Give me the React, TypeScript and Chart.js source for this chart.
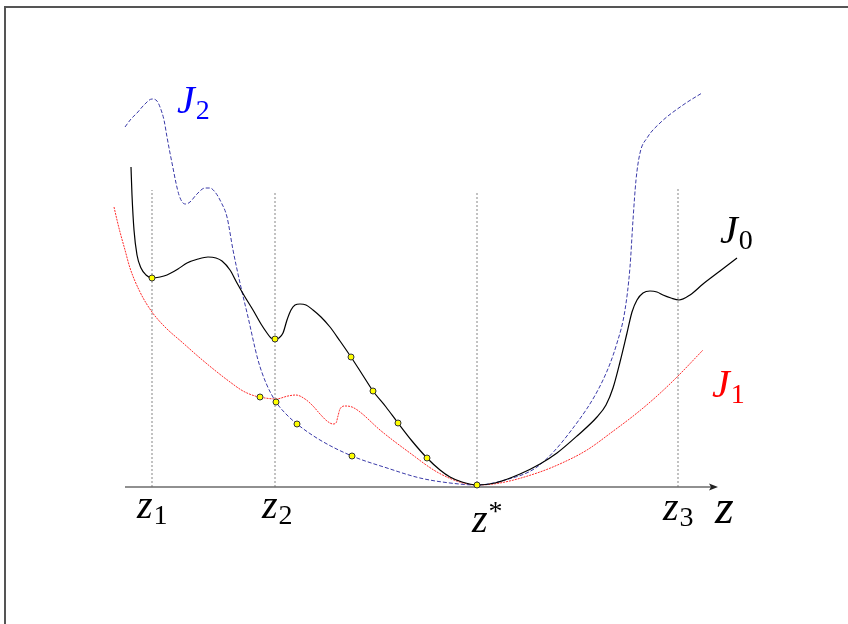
import React, { useEffect, useRef } from "react";
import { Chart, registerables } from "chart.js";

Chart.register(...registerables);

// J0 : black solid curve
const J0: [number, number][] = [
  [-34.6, 32.0], [-34.5, 29.2], [-34.3, 25.7], [-34.0, 23.2], [-33.6, 21.9], [-33.1, 21.2],
  [-32.5, 20.9], [-31.7, 21.0], [-31.0, 21.2], [-29.9, 21.8], [-29.0, 22.4], [-27.9, 22.8],
  [-26.9, 23.0], [-26.1, 22.9], [-25.5, 22.6], [-24.7, 21.7], [-24.0, 20.4], [-23.2, 19.0],
  [-22.4, 17.7], [-21.6, 16.3], [-21.0, 15.4], [-20.6, 14.9], [-20.2, 14.8], [-19.8, 14.9],
  [-19.4, 15.4], [-19.0, 16.7], [-18.6, 17.7], [-18.2, 18.2], [-17.7, 18.3], [-17.1, 18.2],
  [-16.4, 17.7], [-15.6, 17.0], [-14.7, 16.0], [-13.7, 14.6], [-12.6, 13.0], [-11.5, 11.3],
  [-10.4, 9.6], [-9.1, 8.0], [-7.9, 6.4], [-6.5, 4.6], [-5.0, 2.9], [-3.7, 1.7],
  [-2.7, 1.0], [-1.5, 0.5], [0, 0.2], [1.8, 0.4], [4.3, 1.3], [6.3, 2.3],
  [8.0, 3.4], [10.0, 5.1], [12.0, 7.0], [12.9, 8.2], [13.6, 9.9], [14.3, 12.5],
  [15.0, 15.4], [15.5, 17.5], [16.0, 18.7], [16.6, 19.4], [17.3, 19.6], [18.0, 19.5],
  [18.6, 19.2], [19.4, 18.9], [20.2, 18.7], [21.3, 19.2], [22.6, 20.3], [24.3, 21.6],
  [26.0, 22.9],
];

// J2 : blue dashed curve
const J2: [number, number][] = [
  [-35.2, 36.0], [-34.6, 36.8], [-34.0, 37.4], [-33.3, 38.2], [-32.5, 38.8], [-32.0, 38.6],
  [-31.7, 38.0], [-31.3, 36.7], [-31.0, 35.0], [-30.7, 33.4], [-30.4, 31.9], [-30.1, 30.4],
  [-29.8, 29.2], [-29.4, 28.4], [-29.1, 28.3], [-28.7, 28.5], [-28.0, 29.3], [-27.2, 29.9],
  [-26.7, 29.9], [-26.2, 29.5], [-25.6, 28.5], [-25.0, 27.0], [-24.4, 23.7], [-23.7, 20.4],
  [-22.9, 17.0], [-21.9, 12.7], [-21.1, 10.4], [-20.1, 8.5], [-19.1, 7.3], [-18.0, 6.3],
  [-15.7, 4.7], [-12.5, 3.1], [-9.0, 1.9], [-5.7, 0.9], [-2.7, 0.4], [0, 0.2],
  [2.8, 0.7], [6.0, 2.0], [9.3, 5.5], [12.6, 10.7], [14.0, 14.4], [14.8, 17.7],
  [15.3, 22.0], [15.6, 26.7], [15.9, 30.7], [16.3, 33.4], [17.0, 34.9], [18.3, 36.4],
  [20.6, 38.2], [22.5, 39.4],
];

// J1 : red dotted curve
const J1: [number, number][] = [
  [-36.3, 28.0], [-36.0, 26.7], [-35.7, 25.5], [-35.2, 23.7], [-34.7, 21.9], [-33.7, 19.5],
  [-32.5, 17.5], [-31.2, 16.0], [-29.4, 14.4], [-27.7, 12.9], [-26.0, 11.5], [-24.7, 10.5],
  [-23.4, 9.6], [-22.2, 9.1], [-21.2, 8.9], [-20.1, 8.8], [-18.9, 9.1], [-18.1, 9.2],
  [-17.2, 8.8], [-16.4, 8.1], [-15.7, 7.3], [-15.0, 6.6], [-14.4, 6.3], [-14.1, 6.4],
  [-13.9, 7.1], [-13.7, 7.8], [-13.2, 8.1], [-12.5, 8.0], [-11.7, 7.5], [-9.7, 5.7],
  [-6.7, 3.4], [-4.0, 1.5], [-1.4, 0.4], [0, 0.2], [2.3, 0.4], [6.0, 1.4],
  [8.5, 2.4], [11.0, 3.7], [13.5, 5.5], [16.0, 7.4], [18.0, 9.1], [20.0, 11.0],
  [22.6, 13.7],
];

// yellow sample points
const J0_MARKS: [number, number][] = [
  [-32.5, 20.9], [-20.2, 14.8], [-12.6, 13.0], [-10.4, 9.6], [-7.9, 6.4], [-5.0, 2.9], [0, 0.2],
];
const J2_MARKS: [number, number][] = [[-20.1, 8.5], [-18.0, 6.3], [-12.5, 3.1]];
const J1_MARKS: [number, number][] = [[-21.7, 9.0]];

// vertical guide lines (x position, top)
const GUIDE_X = [-32.5, -20.2, 0, 20.1];
const GUIDE_TOP = [29.7, 29.6, 29.4, 29.9];

// horizontal axis extent
const AXIS_FROM = -35.2;
const AXIS_TO = 24.1;

// text labels
const LABELS = [
  { main: "z", sub: "1", sup: "", x: -34.0, y: -3.1, color: "#000", size: 40 },
  { main: "z", sub: "2", sup: "", x: -21.5, y: -3.1, color: "#000", size: 40 },
  { main: "z", sub: "", sup: "*", x: -0.5, y: -4.5, color: "#000", size: 40 },
  { main: "z", sub: "3", sup: "", x: 18.6, y: -3.3, color: "#000", size: 40 },
  { main: "z", sub: "", sup: "", x: 23.8, y: -3.6, color: "#000", size: 48 },
  { main: "J", sub: "2", sup: "", x: -30.0, y: 37.4, color: "#0000ff", size: 40 },
  { main: "J", sub: "0", sup: "", x: 24.3, y: 24.4, color: "#000", size: 40 },
  { main: "J", sub: "1", sup: "", x: 23.5, y: 9.0, color: "#ff0000", size: 40 },
];

const FAMILY = `"Liberation Serif"`;

const toPts = (a: [number, number][]) => a.map(([x, y]) => ({ x, y }));

const decorPlugin = {
  id: "decor",
  beforeDatasetsDraw(chart: any) {
    const { ctx, scales } = chart;
    const xs = scales.x, ys = scales.y;
    const y0 = ys.getPixelForValue(0);
    const xa = xs.getPixelForValue(AXIS_FROM);
    const xb = xs.getPixelForValue(AXIS_TO);
    ctx.save();
    ctx.strokeStyle = "#222";
    ctx.fillStyle = "#222";
    ctx.lineWidth = 1.2;
    ctx.beginPath();
    ctx.moveTo(xa, y0);
    ctx.lineTo(xb - 6, y0);
    ctx.stroke();
    ctx.beginPath();
    ctx.moveTo(xb, y0);
    ctx.lineTo(xb - 9, y0 - 3.5);
    ctx.lineTo(xb - 7, y0);
    ctx.lineTo(xb - 9, y0 + 3.5);
    ctx.closePath();
    ctx.fill();
    ctx.restore();
  },
  afterDatasetsDraw(chart: any) {
    const { ctx, scales } = chart;
    const xs = scales.x, ys = scales.y;
    ctx.save();
    ctx.textAlign = "left";
    ctx.textBaseline = "alphabetic";
    for (const l of LABELS) {
      const px = xs.getPixelForValue(l.x);
      const py = ys.getPixelForValue(l.y);
      ctx.fillStyle = l.color;
      ctx.font = `italic ${l.size}px ${FAMILY}`;
      ctx.fillText(l.main, px, py);
      const w = ctx.measureText(l.main).width;
      const s = Math.round(l.size * 0.7);
      if (l.sub) {
        ctx.font = `${s}px ${FAMILY}`;
        ctx.fillText(l.sub, px + w + 1, py + 6);
      }
      if (l.sup) {
        ctx.font = `${s}px ${FAMILY}`;
        ctx.fillText(l.sup, px + w + 1, py - 12);
      }
    }
    ctx.restore();
  },
};

export default function App() {
  const ref = useRef<HTMLCanvasElement | null>(null);
  useEffect(() => {
    if (!ref.current) return;
    const markStyle = {
      type: "scatter" as const,
      showLine: false,
      pointRadius: 3,
      pointBackgroundColor: "#ffff00",
      pointBorderColor: "#333",
      pointBorderWidth: 1,
    };
    const lineStyle = {
      type: "line" as const,
      pointRadius: 0,
      fill: false,
      cubicInterpolationMode: "monotone" as const,
    };
    const guides = GUIDE_X.map((gx, i) => ({
      type: "line" as const,
      data: [{ x: gx, y: 0 }, { x: gx, y: GUIDE_TOP[i] }],
      borderColor: "#666",
      borderWidth: 0.8,
      borderDash: [2, 2],
      pointRadius: 0,
      fill: false,
    }));
    const chart = new Chart(ref.current, {
      type: "line",
      data: {
        datasets: [
          { ...markStyle, data: toPts(J0_MARKS) },
          { ...markStyle, data: toPts(J2_MARKS) },
          { ...markStyle, data: toPts(J1_MARKS) },
          { ...lineStyle, data: toPts(J0), borderColor: "#000", borderWidth: 1.2 },
          { ...lineStyle, data: toPts(J2), borderColor: "#3a3aa8", borderWidth: 1, borderDash: [4, 2] },
          { ...lineStyle, data: toPts(J1), borderColor: "#ff2a2a", borderWidth: 1, borderDash: [2, 1] },
          ...guides,
        ] as any,
      },
      options: {
        animation: false,
        responsive: false,
        maintainAspectRatio: false,
        layout: { padding: 0, autoPadding: false },
        plugins: { legend: { display: false }, tooltip: { enabled: false } },
        scales: {
          x: { type: "linear", min: -47.7, max: 37.1, display: false },
          y: { type: "linear", min: -13.7, max: 48.7, display: false },
        },
      },
      plugins: [decorPlugin],
    });
    return () => { chart.destroy(); };
  }, []);
  return (
    <div style={{ position: "fixed", left: 0, top: 0, width: 848, height: 624, overflow: "hidden", background: "#fff" }}>
      <canvas ref={ref} width={848} height={624} style={{ position: "absolute", left: 0, top: 0 }} />
      <div style={{ position: "absolute", left: 4, top: 6, width: 1000, height: 1000, borderTop: "2px solid #555", borderLeft: "2px solid #555" }} />
    </div>
  );
}
